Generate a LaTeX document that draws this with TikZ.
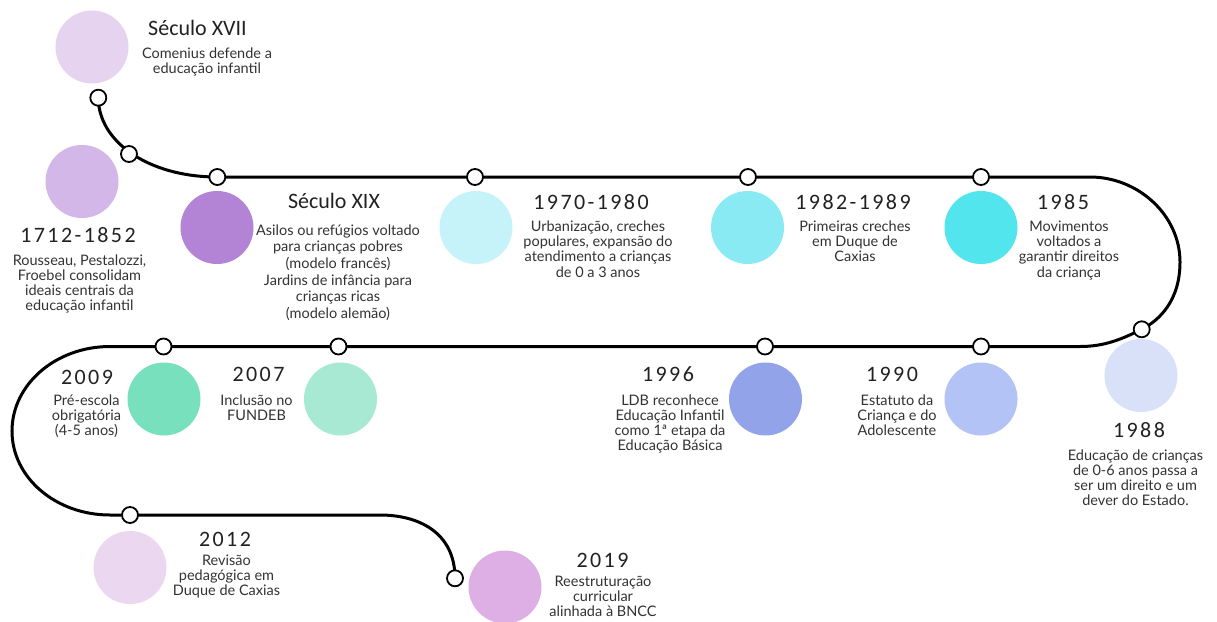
\documentclass[tikz,border=0pt]{standalone}
\usepackage{fontspec}
\setmainfont{Carlito}
\newfontfamily\bodyfont{Lato}
\newfontfamily\spacedfont[LetterSpace=11]{Carlito}
\newcommand{\tlines}[1]{\begin{tabular}[t]{@{}c@{}}#1\end{tabular}}
\definecolor{c1}{HTML}{E6D3EF}
\definecolor{c2}{HTML}{D2B7E8}
\definecolor{c3}{HTML}{B383D6}
\definecolor{c4}{HTML}{C6F3F9}
\definecolor{c5}{HTML}{89EAF4}
\definecolor{c6}{HTML}{52E5EE}
\definecolor{c7}{HTML}{D8E1F8}
\definecolor{c8}{HTML}{B3C3F5}
\definecolor{c9}{HTML}{92A3EA}
\definecolor{c10}{HTML}{A7E9D2}
\definecolor{c11}{HTML}{79E0BE}
\definecolor{c12}{HTML}{EBD8F0}
\definecolor{c13}{HTML}{DDAFE4}
\definecolor{ttlcol}{HTML}{222222}
\definecolor{txtcol}{HTML}{333333}
\tikzset{
  dotnode/.style={circle, draw=black, fill=white, line width=1.8pt, minimum size=16pt, inner sep=0pt},
  bub/.style={circle, fill=#1, draw=none, minimum size=73pt, inner sep=0pt},
  ttl/.style={anchor=base, inner sep=0pt, text=ttlcol, font=\fontsize{22}{24}\selectfont},
  ttlnum/.style={anchor=base, inner sep=0pt, text=ttlcol, font=\fontsize{22}{24}\selectfont\spacedfont},
  txt/.style={anchor=base, inner sep=0pt, text=txtcol, font=\fontsize{14.5}{15}\selectfont\bodyfont},
  trackline/.style={line width=3pt, draw=black}
}
\begin{document}
\begin{tikzpicture}[x=1pt,y=-1pt]
\fill[white] (0,0) rectangle (1217,621);
\useasboundingbox (0,0) rectangle (1217,621);

% bubbles
\node[bub=c1]  (b1)  at (92,47) {};
\node[bub=c2]  (b2)  at (82,181.5) {};
\node[bub=c3]  (b3)  at (217,227.5) {};
\node[bub=c4]  (b4)  at (476,227.5) {};
\node[bub=c5]  (b5)  at (747.5,227.5) {};
\node[bub=c6]  (b6)  at (981,227.5) {};
\node[bub=c7]  (b7)  at (1141,375.5) {};
\node[bub=c8]  (b8)  at (981,399) {};
\node[bub=c9]  (b9)  at (765.5,399) {};
\node[bub=c10] (b10) at (340.5,399) {};
\node[bub=c11] (b11) at (164,399) {};
\node[bub=c12] (b12) at (130,567.5) {};
\node[bub=c13] (b13) at (505,587) {};

% track coordinates
\coordinate (p1) at (98.3,97.7);
\coordinate (p3) at (217.3,177);
\coordinate (r1) at (1090,177);
\coordinate (r2) at (1180,262);
\coordinate (p7) at (1141.7,329.3);
\coordinate (r3) at (1080,346.5);
\coordinate (l1) at (110,346.5);
\coordinate (l2) at (12,431);
\coordinate (l3) at (110,515);
\coordinate (l4) at (380,515);
\coordinate (p13) at (455,578.3);

\draw[trackline] (p1) .. controls (98.3,141.5) and (148.3,177) .. (p3)
  -- (r1) .. controls (1138,177) and (1180,215) .. (r2)
  .. controls (1180,300) and (1160,320) .. (p7)
  .. controls (1122,339) and (1105,346.5) .. (r3)
  -- (l1) .. controls (55.9,346.5) and (12,384.3) .. (l2)
  .. controls (12,477.7) and (55.9,515) .. (l3)
  -- (l4) .. controls (418,515) and (455,532) .. (p13);

% dots
\node[dotnode] (d1)  at (p1) {};
\node[dotnode] (d2)  at (129,154) {};
\node[dotnode] (d3)  at (p3) {};
\node[dotnode] (d4)  at (475,177) {};
\node[dotnode] (d5)  at (748,177) {};
\node[dotnode] (d6)  at (981,177) {};
\node[dotnode] (d7)  at (p7) {};
\node[dotnode] (d8)  at (981,346.5) {};
\node[dotnode] (d9)  at (765,346.5) {};
\node[dotnode] (d10) at (338.5,346.5) {};
\node[dotnode] (d11) at (163.5,346.5) {};
\node[dotnode] (d12) at (130,515) {};
\node[dotnode] (d13) at (p13) {};

% titles
\node[ttl]    (t1)  at (197.5,35) {Século XVII};
\node[ttlnum] (t2)  at (78,242) {1712-1852};
\node[ttl]    (t3)  at (334,208) {Século XIX};
\node[ttlnum] (t4)  at (591,209) {1970-1980};
\node[ttlnum] (t5)  at (853,209) {1982-1989};
\node[ttlnum] (t6)  at (1063,209) {1985};
\node[ttlnum] (t7)  at (1139,437.5) {1988};
\node[ttlnum] (t8)  at (892,381.5) {1990};
\node[ttlnum] (t9)  at (668,381.5) {1996};
\node[ttlnum] (t10) at (258.5,381.5) {2007};
\node[ttlnum] (t11) at (87,384) {2009};
\node[ttlnum] (t12) at (225,546.5) {2012};
\node[ttlnum] (t13) at (602.5,567) {2019};

% texts
\node[txt] (x1)  at (207,58.5) {\tlines{Comenius defende a\\educação infantil}};
\node[txt] (x2)  at (79.5,265) {\tlines{Rousseau, Pestalozzi,\\Froebel consolidam\\ideais centrais da\\educação infantil}};
\node[txt, font=\fontsize{14.5}{16.7}\selectfont\bodyfont] (x3) at (338,235) {\tlines{Asilos ou refúgios voltado\\para crianças pobres\\(modelo francês)\\Jardins de infância para\\crianças ricas\\(modelo alemão)}};
\node[txt] (x4)  at (598,231.5) {\tlines{Urbanização, creches\\populares, expansão do\\atendimento a crianças\\de 0 a 3 anos}};
\node[txt] (x5)  at (855,231.5) {\tlines{Primeiras creches\\em Duque de\\Caxias}};
\node[txt] (x6)  at (1069,231.5) {\tlines{Movimentos\\voltados a\\garantir direitos\\da criança}};
\node[txt] (x7)  at (1135.5,460) {\tlines{Educação de crianças\\de 0-6 anos passa a\\ser um direito e um\\dever do Estado.}};
\node[txt] (x8)  at (897,405) {\tlines{Estatuto da\\Criança e do\\Adolescente}};
\node[txt] (x9)  at (670,405) {\tlines{LDB reconhece\\Educação Infantil\\como 1ª etapa da\\Educação Básica}};
\node[txt] (x10) at (256.5,405) {\tlines{Inclusão no\\FUNDEB}};
\node[txt] (x11) at (86.5,405) {\tlines{Pré-escola\\obrigatória\\(4-5 anos)}};
\node[txt] (x12) at (226.5,565) {\tlines{Revisão\\pedagógica em\\Duque de Caxias}};
\node[txt] (x13) at (603,586.5) {\tlines{Reestruturação\\curricular\\alinhada à BNCC}};
\end{tikzpicture}
\end{document}
